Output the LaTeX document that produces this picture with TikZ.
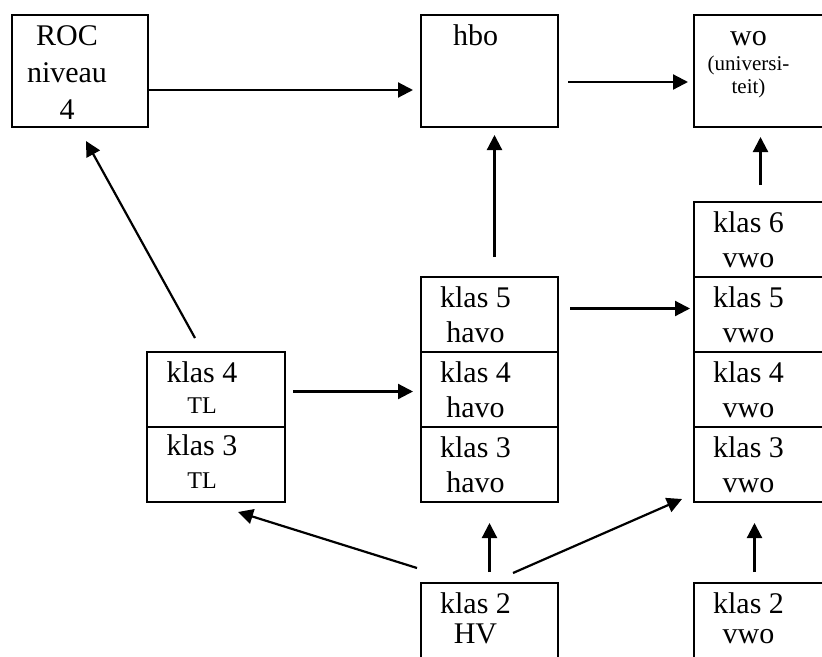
\documentclass[tikz,border=0pt]{standalone}
\usepackage{fontspec}
\setmainfont{Liberation Serif}
\usetikzlibrary{positioning,arrows.meta}

\tikzset{
  kader/.style={draw, line width=2pt, minimum width=137pt, minimum height=75pt, inner sep=0pt, outer sep=0pt},
  tekst/.style={anchor=base, align=center, inner sep=0pt, font=\fontsize{30}{35}\selectfont},
  klein/.style={anchor=base, align=center, inner sep=0pt, font=\fontsize{21}{23}\selectfont},
  pijl/.style={-{Triangle[length=15pt,width=15pt]}, line width=2.2pt},
}

\begin{document}
\begin{tikzpicture}[x=1pt,y=-1pt]
  \clip (0,0) rectangle (822,656);

  % Bovenste rij
  \node[kader, anchor=north west, minimum width=136pt, minimum height=112pt] (roc) at (12,15) {};
  \node[kader, anchor=north west, minimum height=112pt] (hbo) at (421,15) {};
  \node[kader, anchor=north west, minimum height=112pt] (wo) at (694,15) {};

  % Kolom havo
  \node[kader, anchor=north west] (havo5) at (421,277) {};
  \node[kader, below=0pt of havo5] (havo4) {};
  \node[kader, below=0pt of havo4] (havo3) {};

  % Kolom vwo
  \node[kader, anchor=north west] (vwo6) at (694,202) {};
  \node[kader, below=0pt of vwo6] (vwo5) {};
  \node[kader, below=0pt of vwo5] (vwo4) {};
  \node[kader, below=0pt of vwo4] (vwo3) {};

  % Kolom TL
  \node[kader, anchor=north west, minimum width=138pt] (tl4) at (147,352) {};
  \node[kader, below=0pt of tl4, minimum width=138pt] (tl3) {};

  % Klas 2
  \node[kader, anchor=north west, minimum height=80pt] (hv2) at (421,583) {};
  \node[kader, anchor=north west, minimum height=80pt] (vwo2) at (694,583) {};

  % Teksten (basislijn van de laatste regel)
  \node[tekst, font=\fontsize{30}{37}\selectfont] (roctxt) at ([xshift=-13pt,yshift=-104pt]roc.north) {ROC\\niveau\\4};
  \node[tekst] (hbotxt) at ([xshift=-14pt,yshift=-30pt]hbo.north) {hbo};
  \node[tekst] (wotxt) at ([xshift=-14pt,yshift=-30pt]wo.north) {wo};
  \node[klein] (unitxt) at ([xshift=-14pt,yshift=-78pt]wo.north) {(universi-\\teit)};
  \node[tekst] (havo5txt) at ([xshift=-14pt,yshift=-65pt]havo5.north) {klas 5\\havo};
  \node[tekst] (havo4txt) at ([xshift=-14pt,yshift=-65pt]havo4.north) {klas 4\\havo};
  \node[tekst] (havo3txt) at ([xshift=-14pt,yshift=-65pt]havo3.north) {klas 3\\havo};
  \node[tekst] (vwo6txt) at ([xshift=-14pt,yshift=-65pt]vwo6.north) {klas 6\\vwo};
  \node[tekst] (vwo5txt) at ([xshift=-14pt,yshift=-65pt]vwo5.north) {klas 5\\vwo};
  \node[tekst] (vwo4txt) at ([xshift=-14pt,yshift=-65pt]vwo4.north) {klas 4\\vwo};
  \node[tekst] (vwo3txt) at ([xshift=-14pt,yshift=-65pt]vwo3.north) {klas 3\\vwo};
  \node[tekst] (tl4txt) at ([xshift=-14pt,yshift=-61pt]tl4.north) {klas 4\\[-4pt]{\fontsize{24}{24}\selectfont TL}};
  \node[tekst] (tl3txt) at ([xshift=-14pt,yshift=-61pt]tl3.north) {klas 3\\[-2pt]{\fontsize{24}{24}\selectfont TL}};
  \node[tekst] (hv2txt) at ([xshift=-14pt,yshift=-60pt]hv2.north) {klas 2\\[-5pt]HV};
  \node[tekst] (vwo2txt) at ([xshift=-14pt,yshift=-60pt]vwo2.north) {klas 2\\[-5pt]vwo};

  % Pijlen
  \draw[pijl, shorten >=8pt] ([yshift=-19pt]roc.east) -- ([yshift=-19pt]hbo.west);
  \draw[pijl, shorten <=10pt, shorten >=6pt] ([yshift=-11pt]hbo.east) -- ([yshift=-11pt]wo.west);
  \draw[pijl] ([xshift=5pt,yshift=20pt]havo5.north) -- ([xshift=5pt,yshift=-8pt]hbo.south);
  \draw[pijl] ([xshift=-2pt,yshift=17pt]vwo6.north) -- ([xshift=-2pt,yshift=-10pt]wo.south);
  \draw[pijl, shorten <=12pt, shorten >=4pt] ([yshift=6pt]havo5.east) -- ([yshift=6pt]vwo5.west);
  \draw[pijl, shorten <=8pt, shorten >=8pt] ([yshift=-2pt]tl4.east) -- ([yshift=-2pt]havo4.west);
  \draw[pijl] ([xshift=-21pt,yshift=14pt]tl4.north) -- ([xshift=6pt,yshift=-14pt]roc.south);

  % Vanuit klas 2
  \draw[pijl] ([xshift=-4pt,yshift=15pt]hv2.north west) -- ([xshift=22pt,yshift=-10pt]tl3.south);
  \draw[pijl] ([yshift=11pt]hv2.north) -- ([yshift=-21pt]havo3.south);
  \draw[pijl] ([xshift=23.5pt,yshift=10pt]hv2.north) -- ([xshift=-12pt,yshift=3pt]vwo3.south west);
  \draw[pijl] ([xshift=-8pt,yshift=11pt]vwo2.north) -- ([xshift=-8pt,yshift=-21pt]vwo3.south);

\end{tikzpicture}
\end{document}
